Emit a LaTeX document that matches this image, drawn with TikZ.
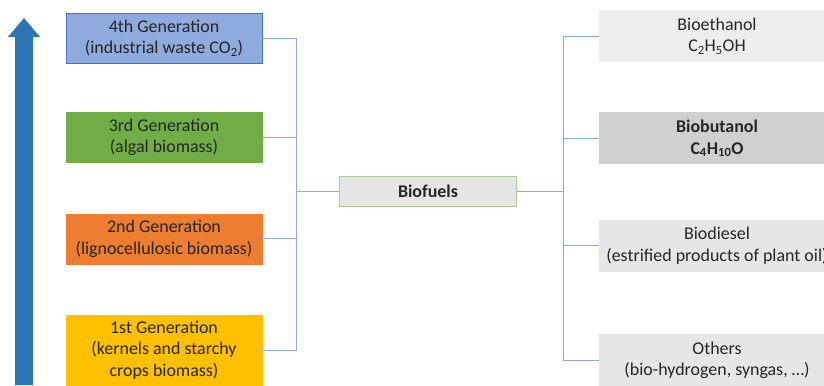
\documentclass[tikz,border=0pt]{standalone}
\usepackage{fontspec}
\setmainfont{Carlito}
\usetikzlibrary{positioning}
\definecolor{gen4c}{HTML}{8FAADC}
\definecolor{gen4b}{HTML}{4472C4}
\definecolor{gen3c}{HTML}{70AD47}
\definecolor{gen2c}{HTML}{ED7D31}
\definecolor{gen1c}{HTML}{FFC000}
\definecolor{sipc}{HTML}{2E75B6}
\definecolor{spojc}{HTML}{8FAADC}
\definecolor{sedaA}{HTML}{EDEDED}
\definecolor{sedaB}{HTML}{D0D0D0}
\definecolor{sedaC}{HTML}{E7E6E6}
\definecolor{zelr}{HTML}{A9D18E}
\tikzset{
  gen/.style={draw=#1,fill=#1,minimum width=196bp,minimum height=50bp,align=center,inner sep=1pt,text=black!85},
  palivo/.style={fill=#1,minimum width=236bp,minimum height=52bp,align=center,inner sep=1pt,text=black!85},
  spoj/.style={draw=spojc,line width=0.8bp},
}
\begin{document}
\begin{tikzpicture}[x=1bp,y=-1bp,font=\fontsize{18}{21.5}\selectfont]
  \path[use as bounding box,clip] (0,0) rectangle (824,385);
  % generations
  \node[gen=gen4c,draw=gen4b] (g4) at (164,38) {4th Generation\\(industrial waste CO\textsubscript{2})};
  \node[gen=gen3c] (g3) [below=49bp of g4] {3rd Generation\\(algal biomass)};
  \node[gen=gen2c] (g2) [below=51bp of g3] {2nd Generation\\(lignocellulosic biomass)};
  \node[gen=gen1c,minimum height=70bp] (g1) [below=51bp of g2] {1st Generation\\(kernels and starchy\\crops biomass)};
  \fill[sipc] (15,385) -- (15,37) -- (8,37) -- (24,18) -- (40,37) -- (33,37) -- (33,385) -- cycle;
  % center
  \node[fill=sedaC,draw=zelr,minimum width=177bp,minimum height=30bp,font=\fontsize{18}{21.5}\bfseries,text=black!85] (bf) at (428,191) {Biofuels};
  % products
  \node[palivo=sedaA] (beth) at (717,36) {Bioethanol\\C\textsubscript{2}H\textsubscript{5}OH};
  \node[palivo=sedaB,font=\fontsize{18}{21.5}\bfseries] (bbut) [below=50bp of beth] {Biobutanol\\C\textsubscript{4}H\textsubscript{10}O};
  \node[palivo=sedaC] (bdie) [below=55bp of bbut] {Biodiesel\\(estrified products of plant oil)};
  \node[palivo=sedaC] (oth) [below=62bp of bdie] {Others\\(bio-hydrogen, syngas, \dots)};
  % connectors
  \coordinate (lb) at (296,0);
  \coordinate (rb) at (563,0);
  \draw[spoj] (g4.east) -- (g4.east -| lb) -- (g1.east -| lb) -- (g1.east);
  \draw[spoj] (g3.east) -- (g3.east -| lb);
  \draw[spoj] (g2.east) -- (g2.east -| lb);
  \draw[spoj] (bf.west -| lb) -- (bf.west);
  \draw[spoj] (bf.east) -- (bf.east -| rb);
  \draw[spoj] (beth.west) -- (beth.west -| rb) -- (oth.west -| rb) -- (oth.west);
  \draw[spoj] (bbut.west -| rb) -- (bbut.west);
  \draw[spoj] (bdie.west -| rb) -- (bdie.west);
\end{tikzpicture}
\end{document}
